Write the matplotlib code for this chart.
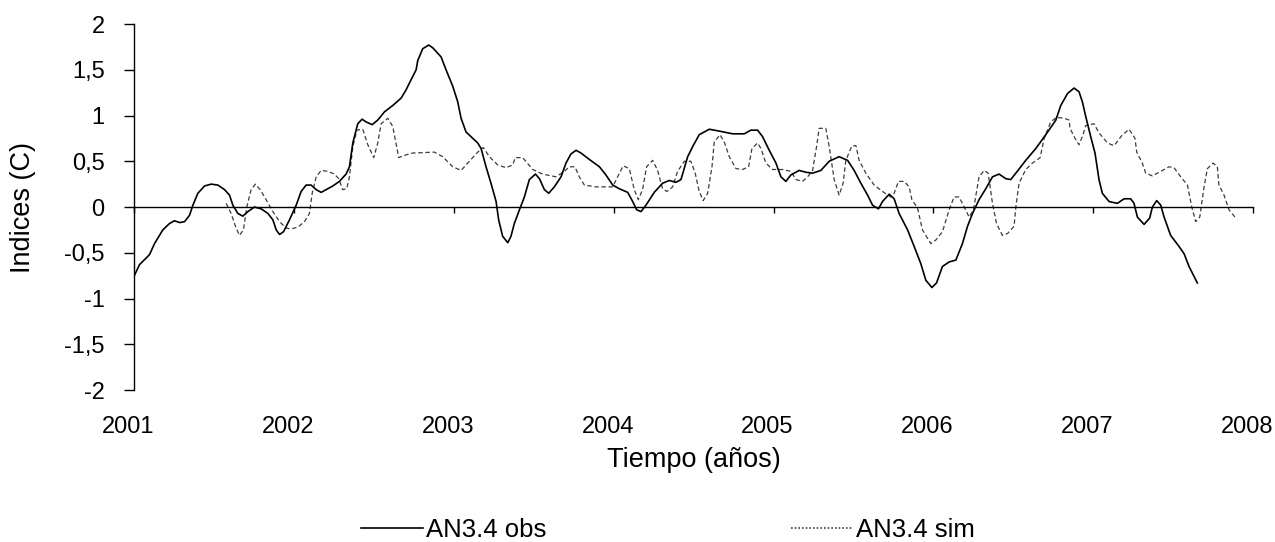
import numpy as np
import matplotlib
matplotlib.use("Agg")
import matplotlib.pyplot as plt
from matplotlib.lines import Line2D
from matplotlib.ticker import FuncFormatter
from matplotlib.transforms import ScaledTranslation

plt.rcParams['font.family'] = ['Liberation Sans', 'DejaVu Sans']

# AN3.4 observed (years, index C)
obs_t = [2001.000, 2001.035, 2001.098, 2001.129, 2001.181, 2001.223, 2001.254, 2001.286,
         2001.317, 2001.348, 2001.369, 2001.400, 2001.442, 2001.483, 2001.525, 2001.567,
         2001.598, 2001.619, 2001.650, 2001.681, 2001.713, 2001.754, 2001.796, 2001.838,
         2001.869, 2001.890, 2001.911, 2001.936, 2001.973, 2002.015, 2002.046, 2002.077,
         2002.108, 2002.140, 2002.171, 2002.202, 2002.244, 2002.285, 2002.327, 2002.348,
         2002.369, 2002.400, 2002.427, 2002.452, 2002.490, 2002.525, 2002.567, 2002.619,
         2002.671, 2002.702, 2002.733, 2002.765, 2002.775, 2002.806, 2002.844, 2002.869,
         2002.921, 2002.952, 2002.994, 2003.025, 2003.046, 2003.077, 2003.119, 2003.150,
         2003.171, 2003.202, 2003.233, 2003.265, 2003.281, 2003.306, 2003.338, 2003.358,
         2003.379, 2003.411, 2003.442, 2003.473, 2003.511, 2003.536, 2003.567, 2003.594,
         2003.629, 2003.671, 2003.702, 2003.733, 2003.765, 2003.796, 2003.848, 2003.911,
         2003.952, 2003.994, 2004.035, 2004.088, 2004.119, 2004.144, 2004.171, 2004.202,
         2004.254, 2004.306, 2004.348, 2004.390, 2004.421, 2004.463, 2004.494, 2004.535,
         2004.598, 2004.660, 2004.744, 2004.817, 2004.858, 2004.900, 2004.931, 2004.973,
         2005.015, 2005.046, 2005.077, 2005.108, 2005.160, 2005.202, 2005.244, 2005.296,
         2005.348, 2005.410, 2005.463, 2005.504, 2005.546, 2005.588, 2005.619, 2005.656,
         2005.681, 2005.723, 2005.754, 2005.785, 2005.838, 2005.879, 2005.921, 2005.952,
         2005.990, 2006.019, 2006.056, 2006.098, 2006.140, 2006.181, 2006.213, 2006.244,
         2006.285, 2006.327, 2006.369, 2006.410, 2006.452, 2006.483, 2006.515, 2006.577,
         2006.640, 2006.702, 2006.765, 2006.796, 2006.838, 2006.879, 2006.910, 2006.931,
         2006.952, 2006.983, 2007.010, 2007.035, 2007.056, 2007.098, 2007.150, 2007.192,
         2007.233, 2007.254, 2007.275, 2007.317, 2007.352, 2007.369, 2007.396, 2007.421,
         2007.442, 2007.483, 2007.535, 2007.567, 2007.598, 2007.650]
obs_v = [-0.76, -0.63, -0.52, -0.40, -0.25, -0.18, -0.15, -0.17,
         -0.16, -0.09, 0.02, 0.15, 0.23, 0.25, 0.24, 0.19,
         0.13, 0.02, -0.07, -0.10, -0.05, 0.00, -0.02, -0.07,
         -0.14, -0.25, -0.30, -0.27, -0.14, 0.02, 0.17, 0.24,
         0.24, 0.19, 0.16, 0.19, 0.23, 0.28, 0.36, 0.44,
         0.70, 0.91, 0.96, 0.93, 0.90, 0.95, 1.04, 1.11,
         1.19, 1.28, 1.39, 1.50, 1.60, 1.73, 1.77, 1.74,
         1.64, 1.50, 1.32, 1.15, 0.97, 0.82, 0.75, 0.70,
         0.64, 0.44, 0.26, 0.06, -0.14, -0.32, -0.39, -0.32,
         -0.18, -0.03, 0.11, 0.30, 0.36, 0.31, 0.19, 0.15,
         0.22, 0.33, 0.48, 0.58, 0.62, 0.59, 0.52, 0.44,
         0.35, 0.24, 0.20, 0.16, 0.06, -0.03, -0.05, 0.02,
         0.16, 0.26, 0.29, 0.27, 0.30, 0.55, 0.66, 0.79,
         0.85, 0.83, 0.80, 0.80, 0.84, 0.84, 0.77, 0.62,
         0.48, 0.33, 0.28, 0.35, 0.40, 0.38, 0.37, 0.40,
         0.50, 0.55, 0.51, 0.40, 0.26, 0.13, 0.02, -0.02,
         0.06, 0.14, 0.09, -0.07, -0.25, -0.43, -0.62, -0.80,
         -0.88, -0.83, -0.65, -0.60, -0.58, -0.40, -0.21, -0.07,
         0.08, 0.20, 0.33, 0.36, 0.31, 0.30, 0.37, 0.51,
         0.64, 0.79, 0.95, 1.11, 1.24, 1.30, 1.26, 1.15,
         0.99, 0.77, 0.59, 0.30, 0.15, 0.06, 0.04, 0.09,
         0.09, 0.04, -0.11, -0.19, -0.12, 0.00, 0.07, 0.02,
         -0.11, -0.31, -0.43, -0.51, -0.65, -0.83]

# AN3.4 simulated
sim_t = [2001.577, 2001.608, 2001.635, 2001.660, 2001.685, 2001.706, 2001.733, 2001.760,
         2001.790, 2001.827, 2001.869, 2001.911, 2001.952, 2001.983, 2002.025, 2002.067,
         2002.098, 2002.115, 2002.140, 2002.171, 2002.213, 2002.254, 2002.281, 2002.306,
         2002.331, 2002.348, 2002.369, 2002.394, 2002.431, 2002.463, 2002.500, 2002.525,
         2002.546, 2002.588, 2002.619, 2002.656, 2002.702, 2002.744, 2002.879, 2002.931,
         2002.994, 2003.046, 2003.098, 2003.150, 2003.185, 2003.223, 2003.275, 2003.327,
         2003.369, 2003.385, 2003.431, 2003.494, 2003.556, 2003.640, 2003.692, 2003.723,
         2003.758, 2003.785, 2003.817, 2003.890, 2003.994, 2004.025, 2004.060, 2004.098,
         2004.129, 2004.154, 2004.181, 2004.206, 2004.244, 2004.275, 2004.306, 2004.333,
         2004.369, 2004.400, 2004.442, 2004.483, 2004.510, 2004.535, 2004.560, 2004.588,
         2004.615, 2004.629, 2004.665, 2004.692, 2004.723, 2004.765, 2004.806, 2004.844,
         2004.865, 2004.900, 2004.921, 2004.952, 2004.994, 2005.056, 2005.108, 2005.140,
         2005.181, 2005.213, 2005.244, 2005.269, 2005.285, 2005.327, 2005.348, 2005.379,
         2005.410, 2005.435, 2005.452, 2005.490, 2005.515, 2005.535, 2005.577, 2005.629,
         2005.681, 2005.733, 2005.754, 2005.781, 2005.817, 2005.848, 2005.865, 2005.900,
         2005.931, 2005.983, 2006.015, 2006.056, 2006.098, 2006.129, 2006.160, 2006.192,
         2006.223, 2006.250, 2006.285, 2006.317, 2006.342, 2006.369, 2006.394, 2006.431,
         2006.463, 2006.504, 2006.515, 2006.535, 2006.577, 2006.619, 2006.667, 2006.692,
         2006.733, 2006.769, 2006.817, 2006.848, 2006.854, 2006.885, 2006.910, 2006.935,
         2006.952, 2007.004, 2007.035, 2007.088, 2007.129, 2007.177, 2007.223, 2007.260,
         2007.271, 2007.306, 2007.327, 2007.369, 2007.421, 2007.473, 2007.504, 2007.546,
         2007.588, 2007.615, 2007.640, 2007.665, 2007.692, 2007.713, 2007.748, 2007.775,
         2007.785, 2007.817, 2007.848, 2007.885]
sim_v = [0.04, -0.07, -0.21, -0.31, -0.25, 0.00, 0.19, 0.25,
         0.19, 0.08, -0.05, -0.16, -0.23, -0.24, -0.22, -0.16,
         -0.07, 0.15, 0.33, 0.40, 0.39, 0.36, 0.31, 0.19,
         0.20, 0.33, 0.66, 0.84, 0.85, 0.68, 0.54, 0.70,
         0.91, 0.97, 0.88, 0.54, 0.57, 0.59, 0.60, 0.55,
         0.44, 0.40, 0.50, 0.60, 0.65, 0.55, 0.46, 0.43,
         0.46, 0.54, 0.54, 0.41, 0.36, 0.33, 0.39, 0.44,
         0.44, 0.33, 0.24, 0.22, 0.22, 0.33, 0.45, 0.42,
         0.19, 0.08, 0.19, 0.44, 0.51, 0.40, 0.20, 0.17,
         0.22, 0.39, 0.50, 0.50, 0.37, 0.17, 0.07, 0.15,
         0.44, 0.71, 0.79, 0.71, 0.55, 0.42, 0.41, 0.44,
         0.64, 0.70, 0.64, 0.48, 0.41, 0.41, 0.39, 0.30,
         0.28, 0.33, 0.40, 0.66, 0.86, 0.86, 0.66, 0.30,
         0.13, 0.26, 0.51, 0.67, 0.67, 0.51, 0.37, 0.24,
         0.17, 0.11, 0.15, 0.28, 0.28, 0.22, 0.08, -0.01,
         -0.25, -0.40, -0.36, -0.27, -0.03, 0.11, 0.11, 0.00,
         -0.11, -0.03, 0.33, 0.40, 0.37, 0.04, -0.18, -0.31,
         -0.29, -0.21, 0.00, 0.26, 0.41, 0.48, 0.54, 0.75,
         0.93, 0.98, 0.97, 0.95, 0.86, 0.75, 0.68, 0.79,
         0.89, 0.91, 0.81, 0.70, 0.67, 0.78, 0.85, 0.75,
         0.60, 0.48, 0.37, 0.34, 0.39, 0.44, 0.43, 0.33,
         0.24, 0.00, -0.16, -0.11, 0.22, 0.42, 0.48, 0.44,
         0.24, 0.13, -0.03, -0.11]

years = list(range(2001, 2009))
yticks = [-2, -1.5, -1, -0.5, 0, 0.5, 1, 1.5, 2]

fig = plt.figure(figsize=(12.75, 5.42), dpi=100)
ax = fig.add_axes([0.105, 0.2804, 0.878, 0.6753])

ax.plot(obs_t, obs_v, color='black', lw=1.2, zorder=3)
ax.plot(sim_t, sim_v, color='#3c3c3c', lw=0.9, ls=(0, (3.5, 2.2)), zorder=2)

ax.set_xlim(2001, 2008)
ax.set_ylim(-2, 2)
ax.set_xticks(years)
ax.set_yticks(yticks)
ax.yaxis.set_major_formatter(FuncFormatter(lambda v, p: f'{v:g}'.replace('.', ',')))

ax.spines['top'].set_visible(False)
ax.spines['right'].set_visible(False)
ax.spines['bottom'].set_position(('data', 0))
for s in ['left', 'bottom']:
    ax.spines[s].set_linewidth(1.0)

# x labels sit at the bottom although the axis line is at zero
ax.tick_params(axis='x', direction='out', length=4.5, width=1, pad=146, labelsize=17)
ax.tick_params(axis='y', direction='out', length=7, width=1, pad=14, labelsize=17)
shift = ScaledTranslation(-6 / 100, 0, fig.dpi_scale_trans)
for lab in ax.get_xticklabels():
    lab.set_transform(lab.get_transform() + shift)

ax.set_xlabel('Tiempo (años)', fontsize=19.5)
ax.set_ylabel('Indices (C)', fontsize=19.5)
ax.xaxis.set_label_coords(0.5, -0.155)
ax.yaxis.set_label_coords(-0.087, 0.5)

handles = [Line2D([], [], color='black', lw=1.2),
           Line2D([], [], color='#3c3c3c', lw=1.2, ls=(0, (1, 1.2)))]
fig.legend(handles, ['AN3.4 obs', 'AN3.4 sim'], loc='lower center', ncol=2,
           bbox_to_anchor=(0.524, -0.042), frameon=False, fontsize=18.5,
           handlelength=2.4, handletextpad=0.15, columnspacing=9.5)

fig.savefig('out.png', dpi=100)
